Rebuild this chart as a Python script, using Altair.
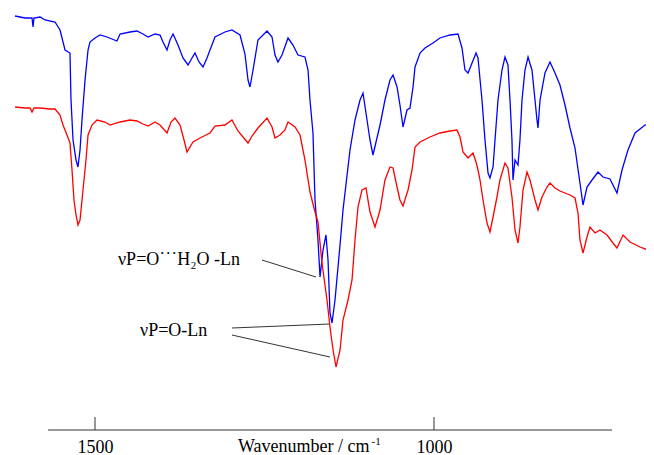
import altair as alt
import pandas as pd

# ---- spectrum data (wavenumber / cm-1, transmittance in arbitrary units) ----
blue_wn = [1618.0, 1603.2, 1592.9, 1591.4, 1590.0, 1581.1, 1573.7, 1559.0, 1551.6, 1544.2,
           1536.9, 1535.4, 1532.4, 1528.0, 1525.1, 1522.1, 1519.2, 1514.7, 1510.3, 1507.4,
           1500.0, 1492.6, 1482.3, 1467.6, 1463.1, 1448.4, 1438.1, 1429.2, 1421.8, 1411.5,
           1404.1, 1399.7, 1393.8, 1389.4, 1384.9, 1377.6, 1370.2, 1362.8, 1356.9, 1352.5,
           1346.6, 1340.7, 1334.8, 1330.4, 1323.0, 1308.3, 1298.0, 1286.1, 1278.8, 1274.3,
           1271.4, 1266.9, 1259.6, 1246.3, 1238.9, 1234.5, 1230.1, 1224.2, 1215.3, 1208.0,
           1200.6, 1190.3, 1185.8, 1182.9, 1178.5, 1175.5, 1171.1, 1168.1, 1163.7, 1159.3,
           1156.3, 1153.4, 1150.4, 1146.0, 1138.6, 1134.2, 1123.9, 1116.5, 1109.1, 1104.7,
           1094.4, 1090.0, 1079.6, 1072.3, 1064.9, 1060.4, 1054.5, 1050.2, 1045.7, 1039.8,
           1035.4, 1030.9, 1028.0, 1020.6, 1013.3, 1001.5, 991.2, 976.4, 964.6, 958.7,
           954.3, 949.8, 943.9, 938.0, 935.1, 929.2, 924.8, 920.3, 917.4, 912.9,
           910.0, 905.6, 899.7, 895.3, 890.9, 887.9, 885.0, 883.5, 880.5, 876.1,
           873.2, 870.2, 865.8, 861.3, 855.5, 851.0, 848.1, 846.6, 843.6, 836.3,
           828.9, 821.5, 814.2, 806.8, 799.4, 792.0, 784.7, 780.2, 774.3, 766.9,
           758.1, 750.7, 740.4, 730.1, 722.7, 713.9, 703.5, 688.8, 681.5, 677.0]
blue_t = [414, 412, 412, 403, 412, 413, 410, 408, 400, 380,
          377, 330, 290, 270, 263, 280, 310, 350, 380, 388,
          392, 395, 393, 389, 396, 398, 399, 396, 393, 396,
          395, 388, 380, 390, 396, 385, 372, 365, 372, 377,
          368, 363, 372, 380, 393, 398, 400, 395, 376, 350,
          343, 360, 390, 399, 393, 375, 368, 375, 392, 385,
          375, 373, 360, 330, 297, 230, 190, 153, 180, 195,
          170, 117, 107, 130, 185, 220, 280, 310, 330, 337,
          290, 275, 305, 330, 350, 355, 343, 325, 303, 320,
          322, 343, 363, 377, 382, 387, 392, 395, 396, 382,
          360, 357, 367, 377, 372, 330, 290, 257, 252, 263,
          290, 330, 360, 373, 365, 330, 290, 250, 270, 265,
          290, 330, 360, 373, 360, 330, 310, 302, 330, 357,
          368, 357, 345, 325, 302, 282, 247, 225, 243, 250,
          258, 253, 251, 237, 260, 280, 297, 305, 306, 322]

red_wn = [1618.0, 1603.2, 1595.9, 1592.9, 1590.0, 1581.1, 1566.4, 1559.0, 1551.6, 1547.2,
          1541.3, 1536.9, 1533.9, 1531.0, 1528.0, 1525.1, 1522.1, 1517.7, 1513.3, 1510.3,
          1504.4, 1497.0, 1485.3, 1477.9, 1463.1, 1448.4, 1438.1, 1429.2, 1421.8, 1411.5,
          1404.1, 1393.8, 1387.9, 1382.0, 1374.6, 1368.7, 1364.3, 1355.5, 1345.1, 1330.4,
          1323.0, 1308.3, 1298.0, 1289.1, 1281.7, 1274.3, 1268.4, 1259.6, 1246.3, 1238.9,
          1234.5, 1227.1, 1219.8, 1215.3, 1205.0, 1197.6, 1190.3, 1182.9, 1175.5, 1171.1,
          1165.2, 1157.8, 1153.4, 1148.9, 1144.5, 1138.6, 1134.2, 1126.8, 1120.9, 1116.5,
          1112.1, 1106.2, 1100.3, 1094.4, 1087.0, 1079.6, 1072.3, 1064.9, 1060.4, 1054.5,
          1050.2, 1045.7, 1038.3, 1032.4, 1028.0, 1020.6, 1005.9, 991.2, 976.4, 966.1,
          961.6, 957.2, 949.8, 942.5, 938.0, 935.1, 932.1, 927.7, 921.8, 917.4,
          912.9, 907.1, 902.7, 895.3, 890.9, 885.0, 880.5, 876.1, 873.2, 868.7,
          862.8, 858.4, 851.0, 846.6, 840.7, 833.3, 828.9, 821.5, 814.2, 806.8,
          799.4, 792.0, 787.6, 784.7, 780.2, 774.3, 769.9, 762.5, 755.2, 744.8,
          736.0, 730.1, 721.2, 710.9, 696.2, 684.4, 677.0]
red_t = [323, 322, 322, 318, 322, 322, 321, 321, 315, 305,
         295, 287, 260, 230, 215, 205, 210, 240, 270, 295,
         305, 310, 308, 305, 308, 310, 309, 306, 304, 308,
         305, 297, 308, 312, 305, 290, 278, 288, 292, 297,
         304, 305, 310, 299, 293, 287, 294, 302, 312, 303,
         292, 295, 300, 308, 303, 295, 270, 238, 218, 208,
         167, 130, 103, 80, 63, 80, 110, 130, 150, 190,
         223, 240, 242, 218, 203, 220, 250, 263, 262, 243,
         230, 224, 240, 260, 283, 288, 293, 297, 299, 300,
         293, 278, 272, 277, 268, 260, 250, 230, 207, 198,
         213, 233, 250, 267, 262, 233, 200, 187, 203, 240,
         258, 250, 230, 220, 233, 243, 247, 242, 239, 237,
         235, 232, 217, 190, 177, 193, 203, 197, 200, 195,
         187, 182, 195, 188, 183, 180, 175]

# axis / annotation content
tick_values = [1500, 1000]
axis_extent = [1569.3, 737.5]
tick_height = [13, 13]

ann_labels = ["νP=O˙˙˙H₂O -Ln", "νP=O-Ln"]
ann_wn = [1466.1, 1433.6]
ann_t = [165, 94]

leader_wn = [1253.7, 1298.0, 1298.0]
leader_wn2 = [1174.0, 1153.4, 1153.4]
leader_t = [170, 102, 95]
leader_t2 = [153, 106, 73]

title_text = ["Wavenumber / cm"]
title_wn = [1289.1]
title_t = [-22]
sup_text = ["-1"]
sup_wn = [1092.0]
sup_t = [-15]

# visible wavenumber window (left edge at the first data point)
x_domain = [687.3, 1618.0]
y_domain = [0, 422]
FONT = "Liberation Serif"

xs = alt.Scale(domain=x_domain, reverse=True, nice=False, zero=False)
ys = alt.Scale(domain=y_domain, nice=False, zero=False)
x_axis = alt.Axis(values=tick_values, domain=False, ticks=False, tickSize=0, grid=False,
                  labelFont=FONT, labelFontSize=18, labelColor="#000000",
                  labelPadding=22, labelBaseline="alphabetic", labelFlush=False,
                  title=None, format="d")

X = alt.X("wn:Q", scale=xs, axis=x_axis)
Y = alt.Y("t:Q", scale=ys, axis=None)

blue_df = pd.DataFrame({"wn": blue_wn, "t": blue_t})
red_df = pd.DataFrame({"wn": red_wn, "t": red_t})

blue = alt.Chart(blue_df).mark_line(color="#0000ff", strokeWidth=1.3, clip=False).encode(x=X, y=Y)
red = alt.Chart(red_df).mark_line(color="#ff0000", strokeWidth=1.3, clip=False).encode(x=X, y=Y)

axis_df = pd.DataFrame({"wn": [axis_extent[0]], "wn2": [axis_extent[1]], "t": [0]})
axis_line = alt.Chart(axis_df).mark_rule(color="#333333", strokeWidth=1).encode(
    x=X, x2=alt.X2("wn2"), y=Y)

tick_df = pd.DataFrame({"wn": tick_values, "t": [0, 0], "t2": tick_height})
ticks = alt.Chart(tick_df).mark_rule(color="#333333", strokeWidth=1).encode(
    x=X, y=Y, y2=alt.Y2("t2"))

leader_df = pd.DataFrame({"wn": leader_wn, "wn2": leader_wn2, "t": leader_t, "t2": leader_t2})
leaders = alt.Chart(leader_df).mark_rule(color="#333333", strokeWidth=1).encode(
    x=X, x2=alt.X2("wn2"), y=Y, y2=alt.Y2("t2"))

ann_df = pd.DataFrame({"wn": ann_wn, "t": ann_t, "label": ann_labels})
ann = alt.Chart(ann_df).mark_text(font=FONT, fontSize=18, color="#000000", align="left",
                                  baseline="alphabetic").encode(x=X, y=Y, text="label:N")

title_df = pd.DataFrame({"wn": title_wn, "t": title_t, "label": title_text})
title = alt.Chart(title_df).mark_text(font=FONT, fontSize=18, color="#000000", align="left",
                                      baseline="alphabetic").encode(x=X, y=Y, text="label:N")

sup_df = pd.DataFrame({"wn": sup_wn, "t": sup_t, "label": sup_text})
sup = alt.Chart(sup_df).mark_text(font=FONT, fontSize=11, color="#000000", align="left",
                                  baseline="alphabetic").encode(x=X, y=Y, text="label:N")

chart = alt.layer(axis_line, ticks, leaders, blue, red, ann, title, sup).properties(
    width=631, height=422,
    autosize=alt.AutoSizeParams(type="none"),
    padding={"left": 7, "top": 0, "right": 0, "bottom": 25},
    background="white",
).configure_view(stroke=None)

chart.save("out.html", embed_options={"renderer": "svg", "actions": False})
